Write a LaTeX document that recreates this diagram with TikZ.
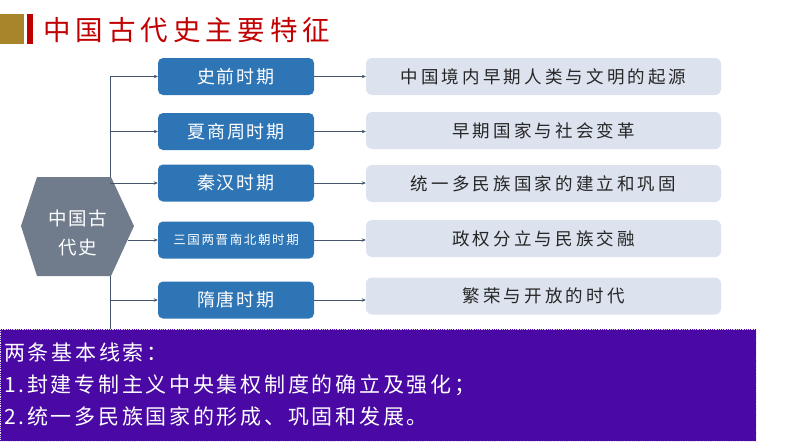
\documentclass[tikz,border=0pt]{standalone}
\usepackage{fontspec}
\setmainfont{Noto Sans CJK SC}
\usetikzlibrary{arrows.meta}
\definecolor{titlered}{HTML}{C00000}
\definecolor{gold}{HTML}{A8852A}
\definecolor{hexgray}{HTML}{707C8C}
\definecolor{boxblue}{HTML}{2E75B6}
\definecolor{lightbox}{HTML}{DCE3EF}
\definecolor{conncol}{HTML}{44546A}
\definecolor{purplebg}{HTML}{4A08A4}
\definecolor{darktext}{HTML}{262626}
\tikzset{
  periodbox/.style={rounded corners=5pt, fill=boxblue, text=white, minimum width=156pt, minimum height=37pt, inner sep=0pt,
    font=\fontsize{18}{20}\selectfont\addfontfeature{LetterSpace=11}},
  featurebox/.style={rounded corners=6pt, fill=lightbox, text=darktext, minimum width=355pt, minimum height=37pt, inner sep=0pt,
    font=\fontsize{17.5}{20}\selectfont\addfontfeature{LetterSpace=18}},
  conn/.style={draw=conncol, line width=0.8pt, -{Stealth[length=4pt,width=3.5pt]}},
  trunk/.style={draw=conncol, line width=0.8pt},
  cluetext/.style={anchor=west, text=white, inner sep=0pt, font=\fontsize{21}{24}\selectfont\addfontfeature{LetterSpace=13}}
}
\begin{document}
\begin{tikzpicture}[x=1pt,y=-1pt]
\useasboundingbox (0,0) rectangle (794,447);
% title
\fill[gold] (0,14) rectangle (24,44);
\fill[titlered] (27,14) rectangle (33,44);
\node[anchor=west, inner sep=0pt, text=titlered, font=\fontsize{27.5}{30}\selectfont\addfontfeature{LetterSpace=18}] (title) at (43,30) {中国古代史主要特征};
% trunk
\coordinate (ttop) at (110,77);
\coordinate (tbot) at (110,329);
\draw[trunk] (ttop) -- (tbot);
% hexagon
\fill[hexgray] (21,226) -- (37,177) -- (111,177) -- (134,226) -- (111,276) -- (37,276) -- cycle;
\node[text=white, align=center, inner sep=0pt, font=\fontsize{18.5}{29}\selectfont\addfontfeature{LetterSpace=8}] (hex) at (78,233) {中国古\\代史};
\coordinate (hexR) at (128,240);
% period boxes
\node[periodbox] (b1) at (236,76.5) {史前时期};
\node[periodbox] (b2) at (236,131.5) {夏商周时期};
\node[periodbox] (b3) at (236,183) {秦汉时期};
\node[periodbox, font=\fontsize{12.5}{14}\selectfont\addfontfeature{LetterSpace=13}] (b4) at (236,240) {三国两晋南北朝时期};
\node[periodbox] (b5) at (236,300) {隋唐时期};
% feature boxes
\node[featurebox] (l1) at (543.5,76.5) {中国境内早期人类与文明的起源};
\node[featurebox] (l2) at (543.5,130.5) {早期国家与社会变革};
\node[featurebox] (l3) at (543.5,183.5) {统一多民族国家的建立和巩固};
\node[featurebox] (l4) at (543.5,238.5) {政权分立与民族交融};
\node[featurebox] (l5) at (543.5,296) {繁荣与开放的时代};
% connectors trunk -> periods
\draw[conn] (b1.west -| ttop) -- (b1.west);
\draw[conn] (b2.west -| ttop) -- (b2.west);
\draw[conn] (b3.west -| ttop) -- (b3.west);
\draw[conn] (hexR) -- (b4.west);
\draw[conn] (b5.west -| ttop) -- (b5.west);
% connectors periods -> features
\draw[conn] (b1.east) -- (b1.east -| l1.west);
\draw[conn] (b2.east) -- (b2.east -| l2.west);
\draw[conn] (b3.east) -- (b3.east -| l3.west);
\draw[conn] (b4.east) -- (b4.east -| l4.west);
\draw[conn] (b5.east) -- (b5.east -| l5.west);
% purple clue box
\node[fill=purplebg, draw=white!85!purplebg, densely dotted, line width=0.8pt, anchor=north west, minimum width=756pt, minimum height=112pt, inner sep=0pt] (clues) at (0,329) {};
\node[cluetext] (c1) at (4,353) {两条基本线索：};
\node[cluetext] (c2) at (4,385) {1.封建专制主义中央集权制度的确立及强化；};
\node[cluetext] (c3) at (4,417) {2.统一多民族国家的形成、巩固和发展。};
\end{tikzpicture}
\end{document}
